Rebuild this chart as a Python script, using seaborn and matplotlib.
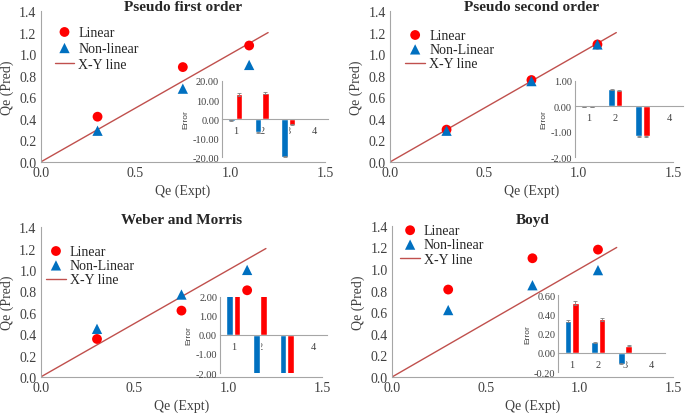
import matplotlib
matplotlib.use("Agg")
import matplotlib.pyplot as plt
import numpy as np
import seaborn as sns

sns.set_theme(style="white")
plt.rcParams["font.family"] = ["Liberation Serif", "DejaVu Serif"]

RED = "#FF0000"
BLUE = "#0070C0"
LINE = "#C0504D"
GREY = "#A6A6A6"

qe_expt = [0.3, 0.75, 1.1]
xy_line = [0.0, 1.2]

pfo_linear = [0.42, 0.88, 1.08]
pfo_nonlinear = [0.29, 0.68, 0.90]
pso_linear = [0.30, 0.76, 1.09]
pso_nonlinear = [0.29, 0.75, 1.09]
wm_linear = [0.355, 0.62, 0.81]
wm_nonlinear = [0.45, 0.77, 1.00]
boyd_linear = [0.81, 1.10, 1.18]
boyd_nonlinear = [0.62, 0.85, 0.99]

err_cats = ["1", "2", "3", "4"]
pfo_err_nl = [-0.9, -6.9, -19.8, 0.0]
pfo_err_l = [12.9, 13.6, -3.0, 0.0]
pso_err_nl = [-0.01, 0.67, -1.18, 0.0]
pso_err_l = [-0.01, 0.64, -1.18, 0.0]
wm_err_nl = [2.6, -2.6, -2.6, 0.0]
wm_err_l = [2.6, 2.6, -2.6, 0.0]
boyd_err_nl = [0.33, 0.11, -0.115, 0.0]
boyd_err_l = [0.52, 0.35, 0.075, 0.0]

pfo_sd_nl = [0.3, 0.3, 0.3, 0.0]
pfo_sd_l = [0.6, 0.6, 0.3, 0.0]
pso_sd_nl = [0.0, 0.02, 0.03, 0.0]
pso_sd_l = [0.0, 0.02, 0.03, 0.0]
wm_sd_nl = [0.0, 0.0, 0.0, 0.0]
wm_sd_l = [0.0, 0.0, 0.0, 0.0]
boyd_sd_nl = [0.015, 0.005, 0.005, 0.0]
boyd_sd_l = [0.02, 0.015, 0.008, 0.0]


def _main_panel(fig, rect, title, linear, nonlinear, nl_label, title_pad, leg_anchor, spacing):
    ax = fig.add_axes(rect)
    ax.plot(xy_line, xy_line, color=LINE, linewidth=1.0, label="X-Y line", zorder=1)
    sns.scatterplot(x=qe_expt, y=linear, ax=ax, color=RED, marker="o", s=50,
                    edgecolor="none", label="Linear", zorder=3)
    sns.scatterplot(x=qe_expt, y=nonlinear, ax=ax, color=BLUE, marker="^", s=55,
                    edgecolor="none", label=nl_label, zorder=4)
    ax.set_xlim(0, 1.5)
    ax.set_ylim(0, 1.4)
    ax.set_xticks([0.0, 0.5, 1.0, 1.5])
    ax.set_yticks(np.arange(0, 1.41, 0.2))
    ax.xaxis.set_major_formatter(matplotlib.ticker.FormatStrFormatter("%.1f"))
    ax.yaxis.set_major_formatter(matplotlib.ticker.FormatStrFormatter("%.1f"))
    ax.tick_params(length=0, labelsize=10, colors="#404040", pad=3)
    for s in ["top", "right"]:
        ax.spines[s].set_visible(False)
    for s in ["left", "bottom"]:
        ax.spines[s].set_color(GREY)
        ax.spines[s].set_linewidth(0.8)
    ax.set_xlabel("Qe (Expt)", fontsize=10, color="#404040", labelpad=3)
    ax.set_ylabel("Qe (Pred)", fontsize=10, color="#404040", labelpad=4)
    ax.set_title(title, fontsize=11, fontweight="bold", pad=title_pad)
    h, l = ax.get_legend_handles_labels()
    order = [1, 2, 0]
    ax.legend([h[i] for i in order], [l[i] for i in order], loc="upper left",
              bbox_to_anchor=leg_anchor, frameon=False, fontsize=10,
              handlelength=1.4, handletextpad=0.3, labelspacing=spacing,
              borderaxespad=0)
    return ax


def _inset(fig, rect, nl, l, nl_sd, l_sd, ylim, yticks):
    ax = fig.add_axes(rect)
    ax.patch.set_alpha(0)
    x = np.arange(len(err_cats))
    w = 0.25
    ax.bar(x - 0.14, nl, width=w, color=BLUE, yerr=nl_sd, ecolor="#808080",
           capsize=1.5, error_kw={"elinewidth": 0.6, "capthick": 0.6})
    ax.bar(x + 0.14, l, width=w, color=RED, yerr=l_sd, ecolor="#808080",
           capsize=1.5, error_kw={"elinewidth": 0.6, "capthick": 0.6})
    ax.set_xlim(-0.5, 3.5)
    ax.set_ylim(*ylim)
    ax.set_yticks(yticks)
    ax.yaxis.set_major_formatter(matplotlib.ticker.FormatStrFormatter("%.2f"))
    ax.set_xticks(x)
    ax.set_xticklabels(err_cats)
    ax.spines["bottom"].set_position(("data", 0))
    for s in ["top", "right"]:
        ax.spines[s].set_visible(False)
    for s in ["left", "bottom"]:
        ax.spines[s].set_color(GREY)
        ax.spines[s].set_linewidth(0.8)
    ax.tick_params(length=0, labelsize=7.5, colors="#404040", pad=2)
    ax.tick_params(axis="x", pad=5)
    ax.set_ylabel("Error", fontsize=6, family=["Liberation Sans", "DejaVu Sans"],
                  color="#404040", labelpad=2)
    return ax


fig = plt.figure(figsize=(6.85, 4.14), dpi=100)

_main_panel(fig, [0.0594, 0.6063, 0.415, 0.3647], "Pseudo first order",
            pfo_linear, pfo_nonlinear, "Non-linear", 1, (0.03, 0.94), 0.22)
_main_panel(fig, [0.5693, 0.6063, 0.413, 0.3647], "Pseudo second order",
            pso_linear, pso_nonlinear, "Non-Linear", 1, (0.035, 0.92), 0.1)
_main_panel(fig, [0.0594, 0.087, 0.411, 0.362], "Weber and Morris",
            wm_linear, wm_nonlinear, "Non-Linear", 3, (0.0, 0.92), 0.1)
_main_panel(fig, [0.5723, 0.087, 0.410, 0.365], "Boyd",
            boyd_linear, boyd_nonlinear, "Non-linear", 2, (0.01, 1.05), 0.1)

_inset(fig, [0.324, 0.618, 0.155, 0.184], pfo_err_nl, pfo_err_l, pfo_sd_nl, pfo_sd_l,
       (-20, 20), [-20, -10, 0, 10, 20])
_inset(fig, [0.839, 0.618, 0.158, 0.184], pso_err_nl, pso_err_l, pso_sd_nl, pso_sd_l,
       (-2, 1), [-2, -1, 0, 1])
_inset(fig, [0.321, 0.0966, 0.156, 0.184], wm_err_nl, wm_err_l, wm_sd_nl, wm_sd_l,
       (-2, 2), [-2, -1, 0, 1, 2])
_inset(fig, [0.815, 0.099, 0.156, 0.186], boyd_err_nl, boyd_err_l, boyd_sd_nl, boyd_sd_l,
       (-0.2, 0.6), [-0.2, 0.0, 0.2, 0.4, 0.6])

fig.savefig("out.png", dpi=100)
plt.close(fig)
